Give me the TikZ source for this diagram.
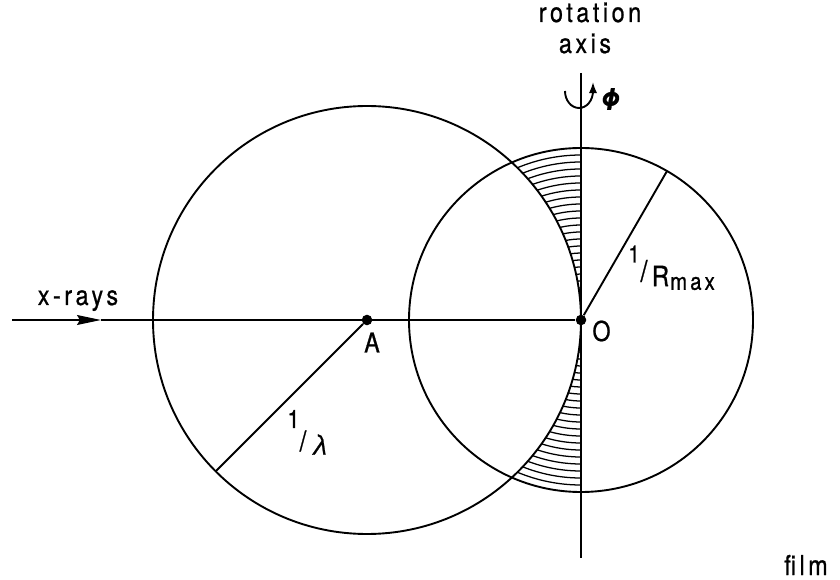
\documentclass[tikz,border=0pt]{standalone}
\usepackage{fontspec}
\usetikzlibrary{arrows.meta}
\newfontfamily\lbl[LetterSpace=13,FakeStretch=0.85,FakeBold=0.8]{TeX Gyre Heros}
\newfontfamily\lblplain[FakeStretch=0.85,FakeBold=0.8]{TeX Gyre Heros}
\begin{document}
\begin{tikzpicture}[x=0.025cm,y=0.025cm,
  thick line/.style={line width=1.35pt},
  hatch/.style={line width=0.9pt},
  dot/.style={circle,fill=black,inner sep=0pt,minimum size=7.5pt},
  lab/.style={inner sep=0pt,font=\fontsize{19.5}{22}\selectfont\lbl},
  smalllab/.style={inner sep=0pt,font=\fontsize{17}{18}\selectfont\lblplain}]
\useasboundingbox (0,0) rectangle (840,579);
% sphere centres
\node[dot] (A) at (367,259) {};
\node[dot] (O) at (581,259) {};
% Ewald sphere and limiting sphere
\draw[thick line] (367,259) circle[radius=214];
\draw[thick line] (581,259) circle[radius=172];
% hatched blind regions
\foreach \r in {165,158,...,32}{
  \draw[hatch] (581,259+\r) arc[start angle=90,end angle={90+asin(\r/428)},radius=\r];
  \draw[hatch] (581,259-\r) arc[start angle=270,end angle={270-asin(\r/428)},radius=\r];
}
% rotation axis
\coordinate (axtop) at (581,506);
\coordinate (axbot) at (581,21);
\draw[thick line] (axtop) -- (axbot);
% x-ray beam
\coordinate (xs) at (12,259);
\coordinate (xtip) at (101,259);
\draw[thick line,-{Stealth[length=17pt,width=7pt,inset=2pt]}] (xs) -- (xtip);
\draw[thick line] (xtip) -- (O);
% radii
\coordinate (lamend) at ({367+214*cos(225)},{259+214*sin(225)});
\coordinate (rend) at ({581+172*cos(60)},{259+172*sin(60)});
\draw[thick line] (A) -- (lamend);
\draw[thick line] (O) -- (rend);
% rotation arrow
\coordinate (rotstart) at (565,488);
\coordinate (rottip) at (593,497);
\draw[thick line,-{Latex[length=8pt,width=6pt]}] (rotstart) arc[start angle=180,end angle=360,x radius=14,y radius=17] -- (rottip);
% labels
\node[lab,anchor=base] (trot) at (590,557) {rotation};
\node[lab,anchor=base] (tax) at (585,526) {axis};
\node[inner sep=0pt,font=\fontsize{21}{22}\selectfont\lblplain\bfseries\itshape] (tphi) at (610,480) {Φ};
\node[lab,anchor=base] (txr) at (78,274) {x-rays};
\node[lab] (tA) at (372,236.5) {A};
\node[lab] (tO) at (601.5,248) {O};
\node[lab,anchor=base] (tfilm) at (806,4) {film};
\node[smalllab] (r1) at (634,325) {1};
\node[inner sep=0pt,font=\fontsize{21}{22}\selectfont\lblplain] (rsl) at (644,308) {/};
\node[inner sep=0pt,font=\fontsize{20}{22}\selectfont\lblplain] (rR) at (660.5,303) {R};
\node[inner sep=0pt,font=\fontsize{17}{20}\selectfont\lbl] (rmax) at (692.5,295.5) {max};
\node[inner sep=0pt,font=\fontsize{18}{20}\selectfont\lblplain] (l1) at (293.5,160) {1};
\node[inner sep=0pt,font=\fontsize{20}{22}\selectfont\lblplain] (lsl) at (303,138) {/};
\node[inner sep=0pt,font=\fontsize{20}{22}\selectfont\lblplain\itshape] (llam) at (320,134.5) {λ};
\end{tikzpicture}
\end{document}
